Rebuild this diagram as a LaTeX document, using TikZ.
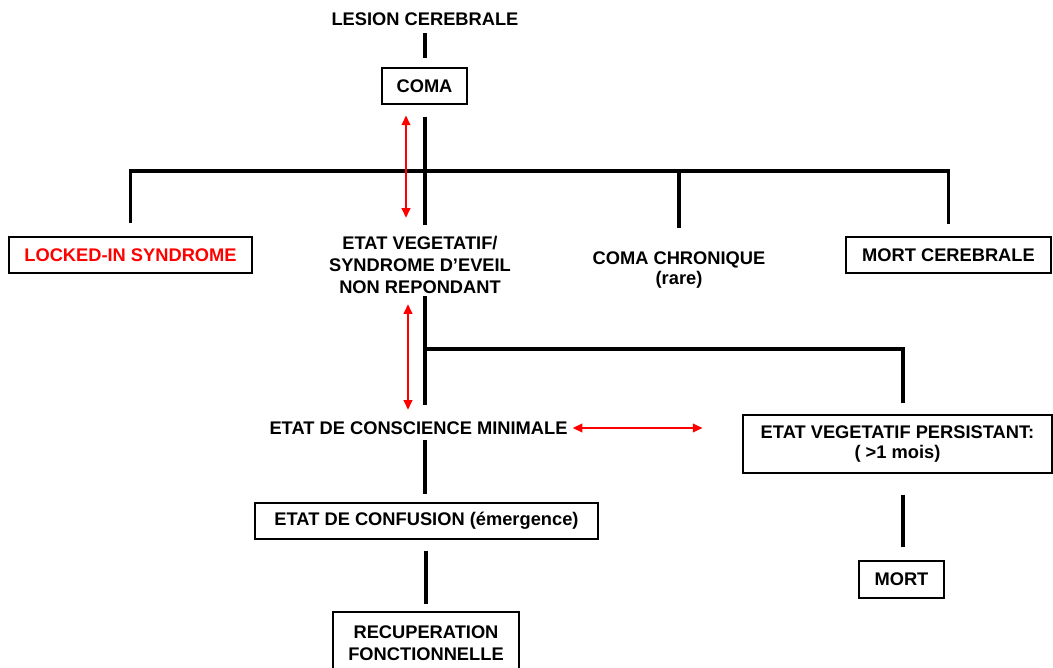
\documentclass[tikz,border=0pt]{standalone}
\usepackage{fontspec}
\setmainfont{Liberation Sans}
\usetikzlibrary{arrows.meta}
\usetikzlibrary{calc}
\newlength{\dpx}
\setlength{\dpx}{0.025cm}

\begin{document}
\begin{tikzpicture}[x=0.025cm,y=-0.025cm,
	lbl/.style={inner sep=0pt,align=center,font=\bfseries\fontsize{13}{15.5}\selectfont},
	box/.style={lbl,draw,line width=0.8pt},
	trunk/.style={line width=2.2pt},
	redarr/.style={red,line width=0.9pt,{Triangle[length=0.24cm,width=0.22cm]}-{Triangle[length=0.24cm,width=0.22cm]}}]
	\useasboundingbox (0,0) rectangle (1053,668);
	
	\node[lbl,minimum height=20\dpx] (lesion) at (425,19.5) {LESION CEREBRALE};
	\node[box,minimum width=85\dpx,minimum height=36\dpx] (coma) at (424.5,86) {COMA};
	
	\node[box,minimum width=243\dpx,minimum height=36\dpx,text=red] (lis) at (130.5,255) {LOCKED-IN SYNDROME};
	\node[lbl,minimum height=64\dpx] (ev) at (420,265) {ETAT VEGETATIF/\\SYNDROME D'EVEIL\\NON REPONDANT};
	\node[lbl,minimum height=48\dpx,font=\bfseries\fontsize{13}{14}\selectfont] (cc) at (679,270) {COMA CHRONIQUE\\(rare)};
	\node[box,minimum width=205\dpx,minimum height=36\dpx] (mc) at (948.5,255) {MORT CEREBRALE};
	
	\node[lbl,minimum height=20\dpx] (ecm) at (418.5,428) {ETAT DE CONSCIENCE MINIMALE};
	\node[box,minimum width=309\dpx,minimum height=58\dpx,font=\bfseries\fontsize{13}{14}\selectfont] (evp) at (897.5,444) {ETAT VEGETATIF PERSISTANT:\\( >1 mois)};
	\node[box,minimum width=343\dpx,minimum height=36\dpx] (conf) at (426.5,521) {ETAT DE CONFUSION (émergence)};
	\node[box,minimum width=186\dpx,minimum height=63\dpx] (recup) at (426,643.5) {RECUPERATION\\FONCTIONNELLE};
	\node[box,minimum width=85\dpx,minimum height=37\dpx] (mort) at (901.5,579.5) {MORT};
	
	\coordinate (hub) at (425,171);
	\coordinate (fork) at (425,349);
	\coordinate (rt) at (903,349);
	
	% arbre
	\draw[trunk] ($(lesion.south)+(0,3.5)$) -- ($(lesion.south |- coma.north)+(0,-9)$);
	\draw[trunk] ($(coma.south -| hub)+(0,12)$) -- ($(hub |- ev.north)+(0,-8)$);
	\draw[trunk] ($(lis.north)+(0,-13)$) |- (hub) -| ($(mc.north)+(0,-12)$);
	\draw[trunk] (hub -| cc.north) -- ($(cc.north)+(0,-18)$);
	\draw[trunk] ($(ev.south -| fork)+(0,-1)$) -- ($(ecm.north -| fork)+(0,-13)$);
	\draw[trunk] (fork) -- (rt) -- ($(rt |- evp.north)+(0,-11)$);
	\draw[trunk] ($(ecm.south -| fork)+(0,2)$) -- ($(conf.north -| fork)+(0,-8)$);
	\draw[trunk] ($(conf.south -| recup.north)+(0,11)$) -- ($(recup.north)+(0,-7)$);
	\draw[trunk] ($(evp.south -| rt)+(0,21)$) -- ($(mort.north -| rt)+(0,-13)$);
	
	% transitions
	\draw[redarr] ($(coma.south)+(-18.5,11)$) -- ($(coma.south |- ev.north)+(-18.5,-15)$);
	\draw[redarr] ($(ev.south)+(-12,7)$) -- ($(ev.south |- ecm.north)+(-12,-8)$);
	\draw[redarr] ($(ecm.east)+(5,0)$) -- ($(ecm.east -| evp.west)+(-40,0)$);
	
\end{tikzpicture}
\end{document}
